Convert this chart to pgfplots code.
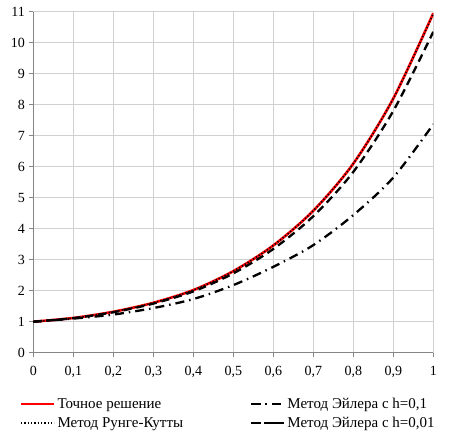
\documentclass[border=0pt]{standalone}
\usepackage{fontspec}
\setmainfont{Liberation Serif}
\usepackage{pgfplots}
\pgfplotsset{compat=1.18}
\definecolor{gridc}{HTML}{D0D0D0}
\definecolor{axc}{HTML}{868686}
\pgfplotsset{
  imglong/.style={legend image code/.code={\draw[##1] (0pt,0pt) -- (33pt,0pt);}},
  imgdd/.style={legend image code/.code={\path (0pt,0pt) -- (33pt,0pt);
     \draw[##1, dash pattern=on 10pt off 14pt on 2pt off 20pt] (0pt,0pt) -- (26pt,0pt);}},
  imgda/.style={legend image code/.code={\path (0pt,0pt) -- (33pt,0pt);
     \draw[##1, dash pattern=on 10pt off 8.5pt] (0pt,0pt) -- (28.5pt,0pt);}},
}
\begin{document}
\begin{tikzpicture}
\path[use as bounding box] (-33.3pt,-81.3pt) rectangle (417.7pt,352.7pt);
\begin{axis}[
  scale only axis, width=400pt, height=341pt,
  xmin=0, xmax=1, ymin=0, ymax=11,
  xtick={0,0.1,...,1.01}, ytick={0,1,...,11},
  axis x line=bottom, axis y line=left,
  axis line style={axc, line width=0.8pt, -},
  tick style={axc, line width=0.8pt},
  tick align=outside, major tick length=4pt,
  grid=major, major grid style={gridc, line width=0.7pt},
  /pgf/number format/assume math mode=true,
  /pgf/number format/use comma,
  /pgf/number format/fixed,
  ticklabel style={font=\fontsize{14}{16}\selectfont},
  xticklabel style={yshift=-6pt},
  yticklabel style={xshift=-1pt},
  legend columns=2, transpose legend,
  legend cell align=left,
  legend style={at={(-0.034,-0.127)}, anchor=north west, draw=none, fill=none,
    font=\fontsize{15}{17}\selectfont, inner sep=0pt, row sep=3pt,
    /tikz/every even column/.append style={column sep=65pt}},
]
\addplot[red, line width=2.6pt, smooth, imglong]
  coordinates {(0,1.00) (0.1,1.12) (0.2,1.32) (0.3,1.61) (0.4,2.02) (0.5,2.63)
  (0.6,3.46) (0.7,4.58) (0.8,6.10) (0.9,8.20) (1.0,10.95)};
\addlegendentry{Точное решение}
\addplot[black, line width=1.5pt, dash pattern=on 1.3pt off 2pt, smooth, imglong]
  coordinates {(0,1.00) (0.1,1.12) (0.2,1.32) (0.3,1.61) (0.4,2.02) (0.5,2.63)
  (0.6,3.46) (0.7,4.58) (0.8,6.10) (0.9,8.20) (1.0,10.94)};
\addlegendentry{Метод Рунге-Кутты}
\addplot[black, line width=2.3pt, dash pattern=on 9pt off 5pt on 1.5pt off 5pt, smooth, imgdd]
  coordinates {(0,1.00) (0.1,1.10) (0.2,1.23) (0.3,1.44) (0.4,1.73) (0.5,2.18)
  (0.6,2.77) (0.7,3.47) (0.8,4.44) (0.9,5.65) (1.0,7.37)};
\addlegendentry{Метод Эйлера с h=0,1}
\addplot[black, line width=2.3pt, dash pattern=on 8pt off 5pt, smooth, imgda]
  coordinates {(0,1.00) (0.1,1.114) (0.2,1.305) (0.3,1.583) (0.4,1.976) (0.5,2.558)
  (0.6,3.346) (0.7,4.404) (0.8,5.832) (0.9,7.80) (1.0,10.35)};
\addlegendentry{Метод Эйлера с h=0,01}
\end{axis}
\end{tikzpicture}
\end{document}
